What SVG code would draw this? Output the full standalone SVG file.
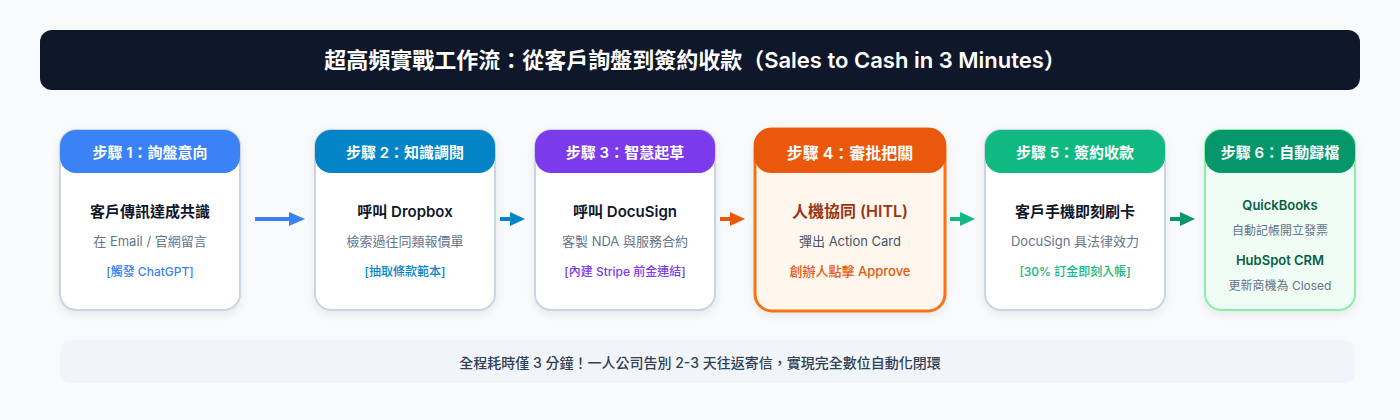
<svg xmlns="http://www.w3.org/2000/svg" width="1400" height="420" viewBox="0 0 1400 420">
<defs>
<filter id="sh" x="-20%" y="-20%" width="140%" height="140%">
<feDropShadow dx="0" dy="3" stdDeviation="4" flood-color="#0f172a" flood-opacity="0.08"/>
</filter>
<style>
text{font-family:"Inter","Noto Sans CJK TC","Noto Sans",sans-serif;text-anchor:middle;dominant-baseline:central}
.card{fill:#ffffff;stroke:#cbd5e1;stroke-width:2}
.hd{font-size:15px;font-weight:600;fill:#ffffff}
.t1{font-size:15px;font-weight:600;fill:#0f172a}
.t2{font-size:13px;fill:#64748b}
.t3{font-size:12px;font-weight:500}
.arr{stroke-width:4;fill:none}
</style>
</defs>
<rect width="1400" height="420" fill="#f8fafc"/>
<g id="title">
<rect x="40" y="30" width="1320" height="60" rx="12" fill="#0f172a"/>
<text x="695" y="60" style="font-size:22px;font-weight:600;fill:#ffffff">超高頻實戰工作流：從客戶詢盤到簽約收款（Sales to Cash in 3 Minutes）</text>
</g>
<g id="connectors">
<line class="arr" x1="255" y1="219" x2="291" y2="219" stroke="#3b82f6"/><polygon points="289,212 305,219 289,226" fill="#3b82f6"/>
<line class="arr" x1="500" y1="219" x2="512" y2="219" stroke="#0284c7"/><polygon points="510,212 525,219 510,226" fill="#0284c7"/>
<line class="arr" x1="720" y1="219" x2="732" y2="219" stroke="#ea580c"/><polygon points="730,212 745,219 730,226" fill="#ea580c"/>
<line class="arr" x1="950" y1="219" x2="962" y2="219" stroke="#10b981"/><polygon points="960,212 975,219 960,226" fill="#10b981"/>
<line class="arr" x1="1170" y1="219" x2="1182" y2="219" stroke="#059669"/><polygon points="1180,212 1195,219 1180,226" fill="#059669"/>
</g>
<g id="step1">
<rect class="card" x="60" y="130" width="180" height="180" rx="16" filter="url(#sh)"/>
<rect x="60" y="130" width="180" height="43" rx="16" fill="#3b82f6"/>
<text class="hd" x="150" y="152">步驟 1：詢盤意向</text>
<text class="t1" x="150" y="211">客戶傳訊達成共識</text>
<text class="t2" x="150" y="241">在 Email / 官網留言</text>
<text class="t3" x="150" y="271" fill="#3b82f6">[觸發 ChatGPT]</text>
</g>
<g id="step2">
<rect class="card" x="315" y="130" width="180" height="180" rx="16" filter="url(#sh)"/>
<rect x="315" y="130" width="180" height="43" rx="16" fill="#0284c7"/>
<text class="hd" x="405" y="152">步驟 2：知識調閱</text>
<text class="t1" x="405" y="211">呼叫 Dropbox</text>
<text class="t2" x="405" y="241">檢索過往同類報價單</text>
<text class="t3" x="405" y="271" fill="#0284c7">[抽取條款範本]</text>
</g>
<g id="step3">
<rect class="card" x="535" y="130" width="180" height="180" rx="16" filter="url(#sh)"/>
<rect x="535" y="130" width="180" height="43" rx="16" fill="#7c3aed"/>
<text class="hd" x="625" y="152">步驟 3：智慧起草</text>
<text class="t1" x="625" y="211">呼叫 DocuSign</text>
<text class="t2" x="625" y="241">客製 NDA 與服務合約</text>
<text class="t3" x="625" y="271" fill="#7c3aed">[內建 Stripe 前金連結]</text>
</g>
<g id="step4">
<rect x="755" y="129" width="190" height="182" rx="17" fill="#fff7ed" stroke="#f97316" stroke-width="3" filter="url(#sh)"/>
<rect x="754" y="128" width="192" height="45" rx="17" fill="#ea580c"/>
<text class="hd" x="850" y="153" style="font-size:16px">步驟 4：審批把關</text>
<text class="t1" x="850" y="211" style="font-size:16px;fill:#9a3412">人機協同 (HITL)</text>
<text class="t2" x="850" y="241" style="fill:#475569">彈出 Action Card</text>
<text class="t3" x="850" y="271" style="font-size:13px" fill="#ea580c">創辦人點擊 Approve</text>
</g>
<g id="step5">
<rect class="card" x="985" y="130" width="180" height="180" rx="16" filter="url(#sh)"/>
<rect x="985" y="130" width="180" height="43" rx="16" fill="#10b981"/>
<text class="hd" x="1075" y="152">步驟 5：簽約收款</text>
<text class="t1" x="1075" y="211">客戶手機即刻刷卡</text>
<text class="t2" x="1075" y="241">DocuSign 具法律效力</text>
<text class="t3" x="1075" y="271" fill="#10b981">[30% 訂金即刻入帳]</text>
</g>
<g id="step6">
<rect x="1205" y="130" width="150" height="180" rx="16" fill="#f0fdf4" stroke="#86efac" stroke-width="2" filter="url(#sh)"/>
<rect x="1205" y="130" width="150" height="43" rx="16" fill="#059669"/>
<text class="hd" x="1280" y="152">步驟 6：自動歸檔</text>
<text x="1280" y="205" style="font-size:13px;font-weight:600;fill:#065f46">QuickBooks</text>
<text x="1280" y="230" style="font-size:12px;fill:#64748b">自動記帳開立發票</text>
<text x="1280" y="260" style="font-size:13px;font-weight:600;fill:#065f46">HubSpot CRM</text>
<text x="1280" y="285" style="font-size:12px;fill:#64748b">更新商機為 Closed</text>
</g>
<g id="footer">
<rect x="60" y="340" width="1295" height="43" rx="10" fill="#f1f5f9"/>
<text x="700" y="362" style="font-size:14px;font-weight:500;fill:#334155">全程耗時僅 3 分鐘！一人公司告別 2-3 天往返寄信，實現完全數位自動化閉環</text>
</g>
</svg>
